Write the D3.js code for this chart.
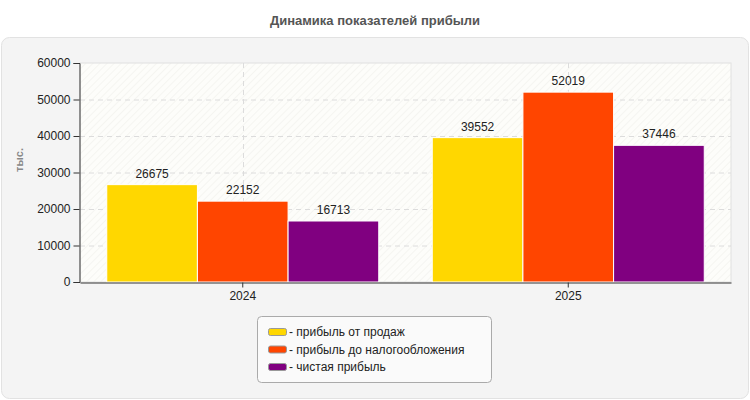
<!DOCTYPE html>
<html><head><meta charset="utf-8">
<script src="https://cdn.jsdelivr.net/npm/d3@7/dist/d3.min.js"></script>
<style>body{margin:0;background:#fff;font-family:Arial,"Liberation Sans",sans-serif;}</style>
</head><body>
<svg id="c" width="750" height="400"></svg>
<script>
const title = "Динамика показателей прибыли";
const yTitle = "тыс.";
const categories = ["2024", "2025"];
const seriesNames = ["прибыль от продаж", "прибыль до налогообложения", "чистая прибыль"];
const salesProfit = [26675, 39552];
const preTaxProfit = [22152, 52019];
const netProfit = [16713, 37446];
const colors = ["#FFD700", "#FF4500", "#800080"];
const yTicks = [0, 10000, 20000, 30000, 40000, 50000, 60000];

const series = [salesProfit, preTaxProfit, netProfit];
const svg = d3.select("#c");
const defs = svg.append("defs");
const pat = defs.append("pattern").attr("id","hatch").attr("patternUnits","userSpaceOnUse")
  .attr("width",5).attr("height",5).attr("patternTransform","rotate(45)");
pat.append("rect").attr("width",5).attr("height",5).attr("fill","#fdfdfa");
pat.append("line").attr("x1",0).attr("y1",0).attr("x2",0).attr("y2",5).attr("stroke","#f3f3ef").attr("stroke-width",1.5);

// title
svg.append("text").attr("x",375).attr("y",25).attr("text-anchor","middle")
  .attr("font-size",13).attr("font-weight","bold").attr("fill","#555").text(title);

// outer panel
svg.append("rect").attr("x",1.5).attr("y",37.5).attr("width",747).attr("height",361)
  .attr("rx",8).attr("fill","#f4f4f4").attr("stroke","#e2e2e2");

const m = {l:80, r:731, t:63, b:282};
const x0 = d3.scaleBand().domain(categories).range([m.l, m.r]).padding(0);
const inner = 26.75;
const x1 = d3.scaleBand().domain(d3.range(series.length)).range([inner, x0.bandwidth()-inner]).padding(0);
const y = d3.scaleLinear().domain([0, 60000]).range([m.b, m.t]);

svg.append("rect").attr("x",m.l).attr("y",m.t).attr("width",m.r-m.l).attr("height",m.b-m.t)
  .attr("fill","url(#hatch)").attr("stroke","#e0e0e0");

// grid
svg.append("g").selectAll("line").data(yTicks.slice(1,-1)).join("line")
  .attr("x1",m.l).attr("x2",m.r).attr("y1",d=>y(d)+0.5).attr("y2",d=>y(d)+0.5)
  .attr("stroke","#dcdcdc").attr("stroke-dasharray","5,4");
svg.append("g").selectAll("line").data(categories).join("line")
  .attr("x1",d=>Math.round(x0(d)+x0.bandwidth()/2)+0.5).attr("x2",d=>Math.round(x0(d)+x0.bandwidth()/2)+0.5)
  .attr("y1",m.t).attr("y2",m.b).attr("stroke","#dcdcdc").attr("stroke-dasharray","5,4");

// bars
const g = svg.append("g");
categories.forEach((c,ci)=>{
  series.forEach((s,si)=>{
    g.append("rect").attr("x",x0(c)+x1(si)).attr("y",y(s[ci])).attr("width",x1.bandwidth())
      .attr("height",y(0)-y(s[ci])).attr("fill",colors[si]).attr("stroke","#fff").attr("stroke-width",1);
    g.append("text").attr("x",x0(c)+x1(si)+x1.bandwidth()/2).attr("y",y(s[ci])-7)
      .attr("text-anchor","middle").attr("font-size",12).attr("fill","#222").text(s[ci]);
  });
});

// axes
const ya = svg.append("g").attr("transform",`translate(${m.l-0.5},0)`)
  .call(d3.axisLeft(y).tickValues(yTicks).tickSize(6).tickPadding(3).tickFormat(d=>String(d)));
ya.selectAll("text").attr("font-size",12).attr("fill","#222").attr("font-family","Arial,'Liberation Sans',sans-serif");
ya.selectAll("line,path").attr("stroke","#333");
const xa = svg.append("g").attr("transform",`translate(0,${m.b+0.5})`)
  .call(d3.axisBottom(x0).tickSize(5).tickSizeOuter(0).tickPadding(4));
xa.selectAll("text").attr("font-size",12).attr("fill","#222").attr("font-family","Arial,'Liberation Sans',sans-serif");
xa.selectAll("line,path").attr("stroke","#333");

svg.append("text").attr("transform","translate(23,160) rotate(-90)").attr("text-anchor","middle")
  .attr("font-size",11).attr("font-weight","bold").attr("fill","#888").text(yTitle);

// legend
svg.append("rect").attr("x",257.5).attr("y",316.5).attr("width",234).attr("height",66)
  .attr("rx",4).attr("fill","#fafafa").attr("stroke","#aaa");
const lg = svg.append("g");
seriesNames.forEach((n,i)=>{
  const yy = 332 + i*17.5;
  lg.append("rect").attr("x",268.5).attr("y",yy-3.5).attr("width",18).attr("height",7).attr("rx",2)
    .attr("fill",colors[i]).attr("stroke","#999");
  lg.append("text").attr("x",289).attr("y",yy+4).attr("font-size",12).attr("fill","#222").text("- " + n);
});
</script>
</body></html>
